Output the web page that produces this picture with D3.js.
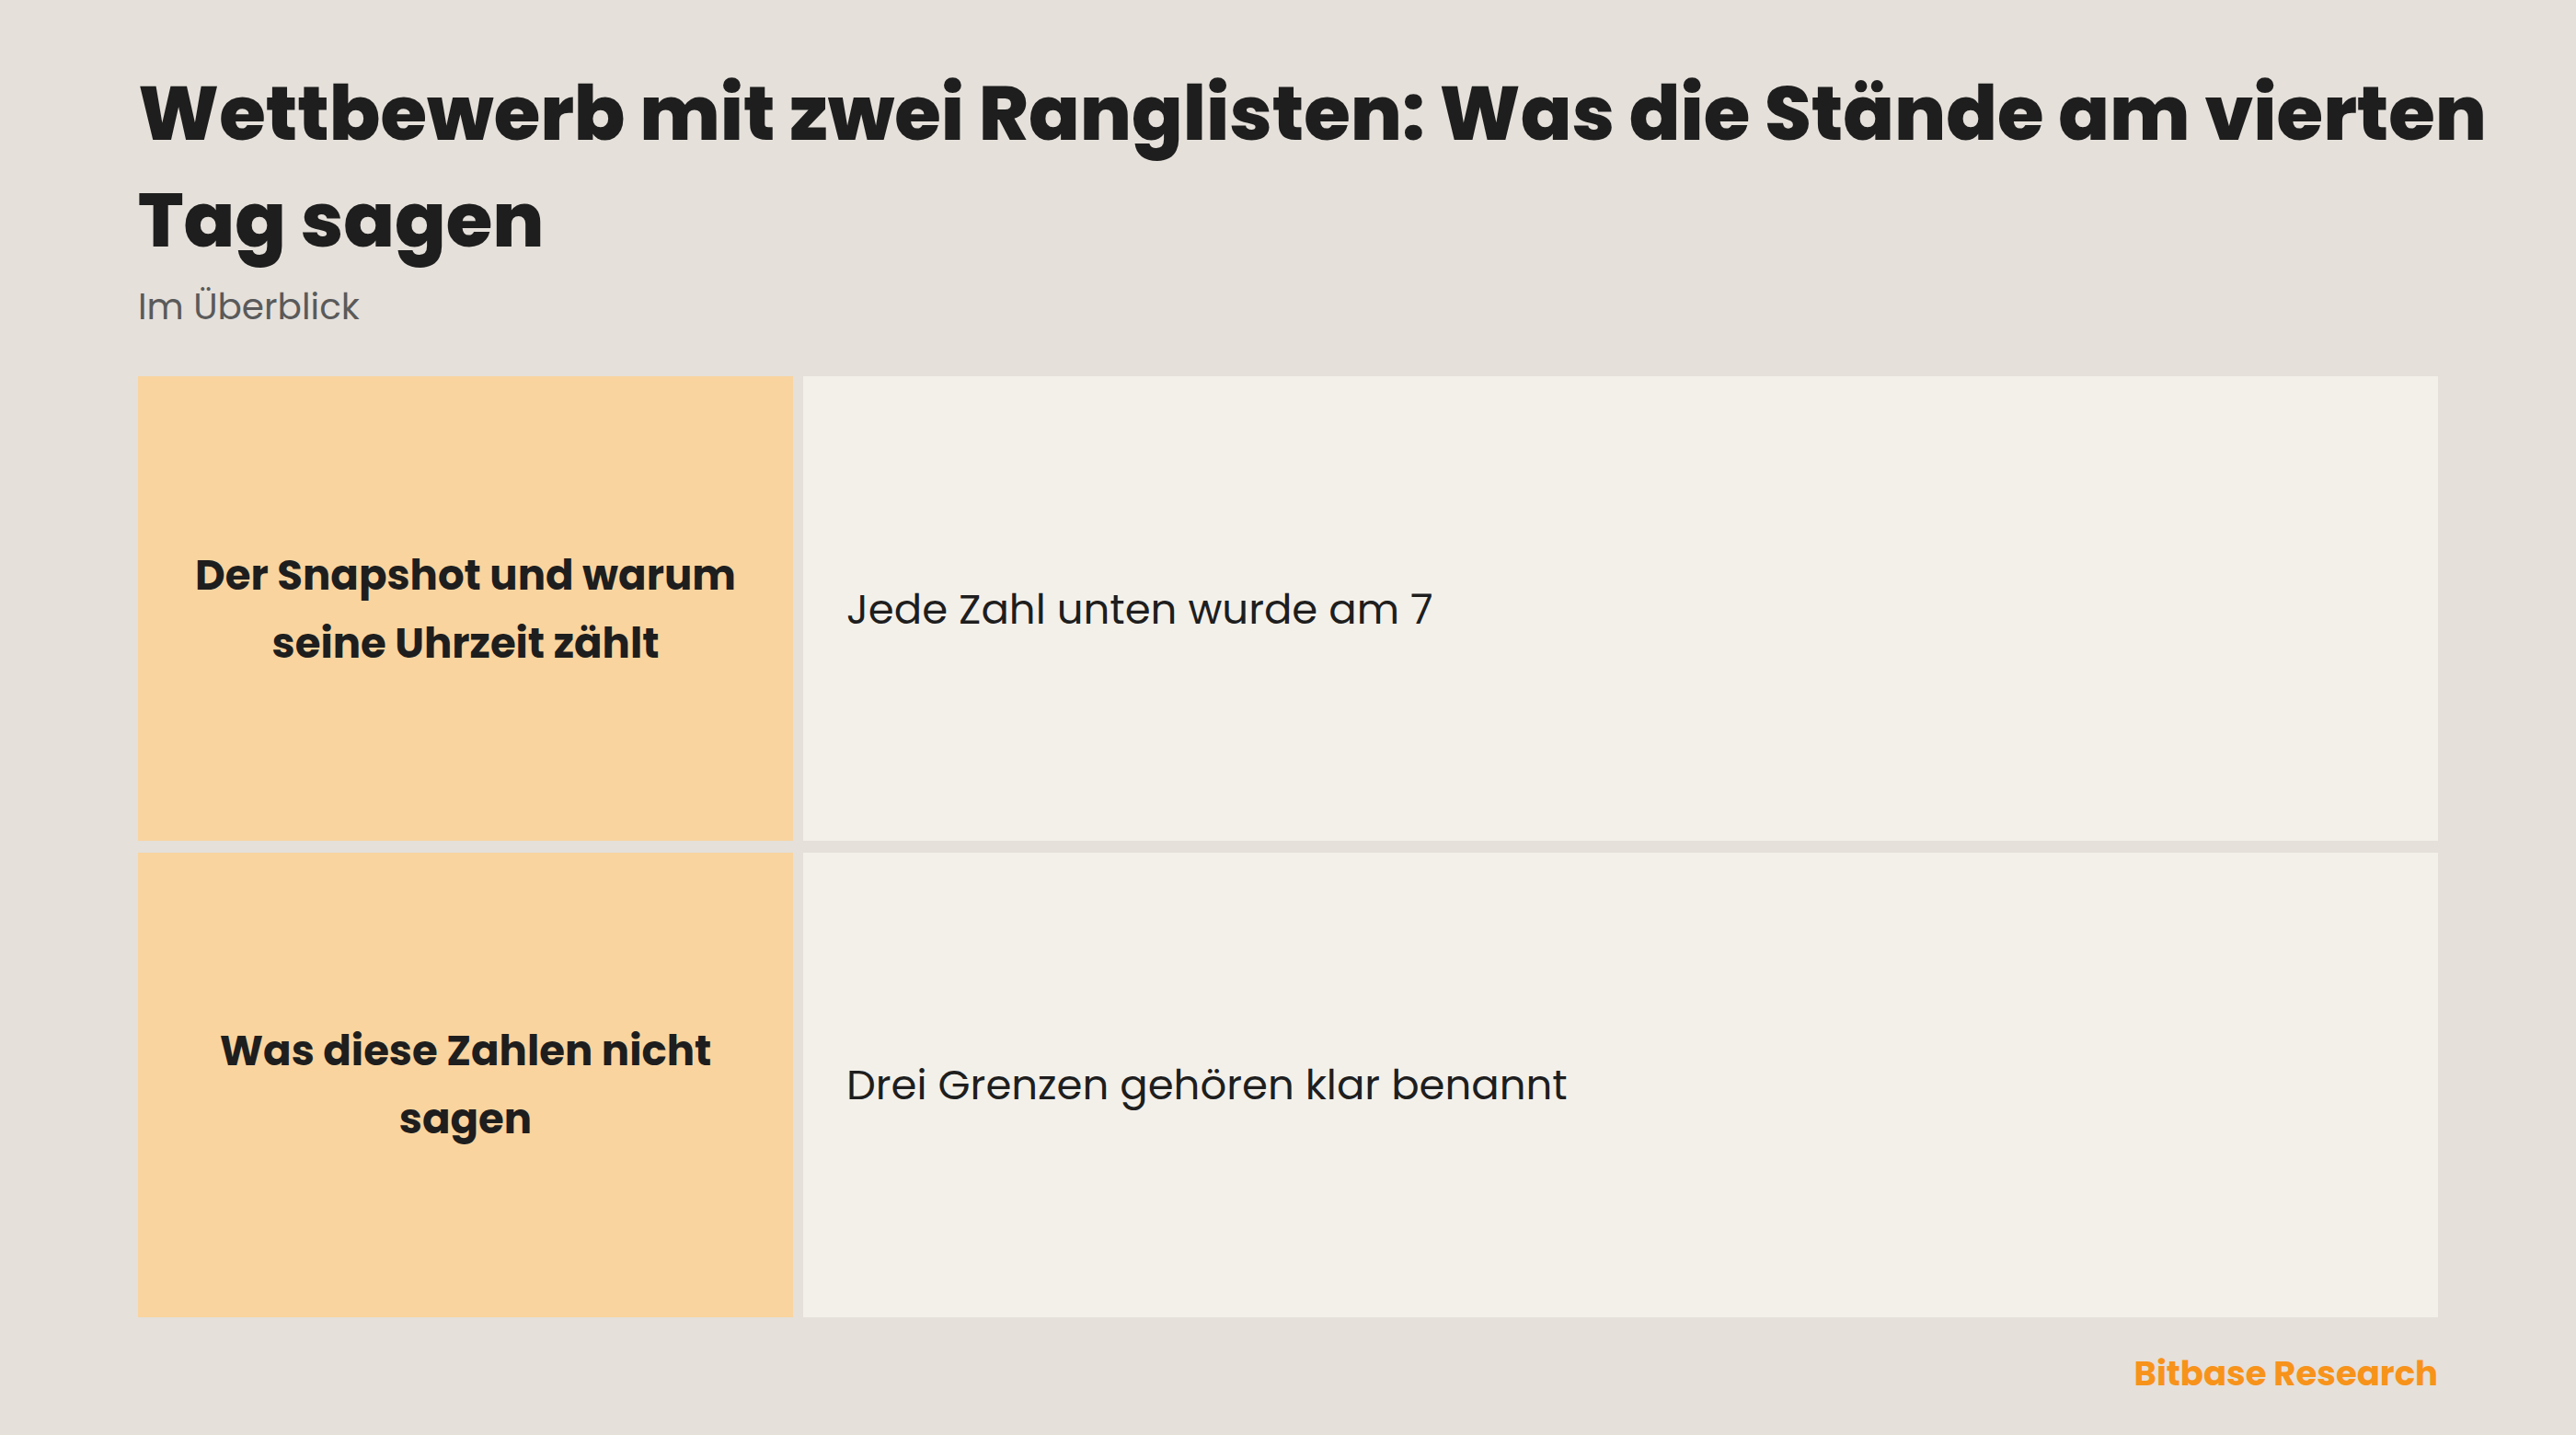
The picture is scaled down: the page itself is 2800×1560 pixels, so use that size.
<!DOCTYPE html>
<html><head><meta charset="utf-8">
<script src="https://cdn.jsdelivr.net/npm/d3@7"></script>
<style>body{margin:0;background:#E5E0DA}svg{display:block}</style>
</head><body>
<script>
const titleLines = ["Wettbewerb mit zwei Ranglisten: Was die Stände am vierten", "Tag sagen"];
const subtitle = "Im Überblick";
const rowHeads = [["Der Snapshot und warum", "seine Uhrzeit zählt"], ["Was diese Zahlen nicht", "sagen"]];
const rowTexts = ["Jede Zahl unten wurde am 7", "Drei Grenzen gehören klar benannt"];
const source = "Bitbase Research";

const W = 2800, H = 1560, F = "Poppins, Inter, 'Open Sans', sans-serif";
const svg = d3.select("body").append("svg").attr("width", W).attr("height", H);
svg.append("rect").attr("width", W).attr("height", H).attr("fill", "#E5E0DA");

svg.selectAll("text.t").data(titleLines).join("text")
  .attr("x", 150).attr("y", (d, i) => 152 + i * 116)
  .attr("font-family", F).attr("font-weight", 800).attr("font-size", 82)
  .attr("fill", "#1E1E1E").text(d => d);
svg.append("text").attr("x", 150).attr("y", 347).attr("font-family", F)
  .attr("font-size", 39).attr("fill", "#5A5A5A").text(subtitle);

const y = d3.scaleBand().domain(d3.range(rowTexts.length)).range([409, 1432]).paddingInner(0.025);
const g = svg.selectAll("g.row").data(rowTexts).join("g");
g.append("rect").attr("x", 150).attr("width", 712).attr("y", (d, i) => y(i)).attr("height", y.bandwidth()).attr("fill", "#F9D49F");
g.append("rect").attr("x", 873).attr("width", 1777).attr("y", (d, i) => y(i)).attr("height", y.bandwidth()).attr("fill", "#F3F0EA");
g.each(function(d, i) {
  const cy = y(i) + y.bandwidth() / 2;
  const lines = rowHeads[i];
  d3.select(this).selectAll("text.h").data(lines).join("text")
    .attr("x", 506).attr("y", (l, j) => cy + (j - (lines.length - 1) / 2) * 74 + 16)
    .attr("text-anchor", "middle").attr("font-family", F).attr("font-weight", 700)
    .attr("font-size", 45).attr("fill", "#1E1E1E").text(l => l);
  d3.select(this).append("text").attr("x", 920).attr("y", cy + 16)
    .attr("font-family", F).attr("font-size", 45).attr("fill", "#1E1E1E").text(d);
});

svg.append("text").attr("x", 2650).attr("y", 1506).attr("text-anchor", "end")
  .attr("font-family", F).attr("font-weight", 700).attr("font-size", 37)
  .attr("fill", "#F7931A").text(source);
</script>
</body></html>
